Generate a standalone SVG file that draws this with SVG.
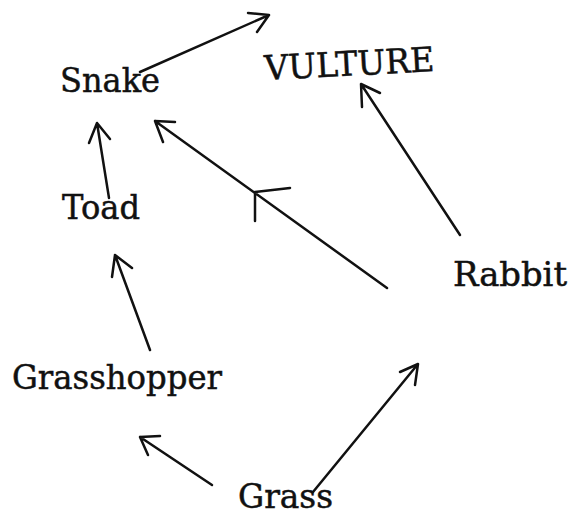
<svg xmlns="http://www.w3.org/2000/svg" width="573" height="515" viewBox="0 0 573 515">
<style>
text{font-family:"DejaVu Serif","Liberation Serif",serif;font-size:34px;fill:#111;stroke:#111;stroke-width:0.5}
.c{fill:none;stroke:#111;stroke-width:2.5;stroke-linecap:round;stroke-linejoin:round}
</style>
<rect width="573" height="515" fill="#fff"/>
<g id="snake"><text x="60" y="92" textLength="100" lengthAdjust="spacingAndGlyphs">Snake</text></g>
<g id="vulture"><text x="265" y="80" textLength="170" lengthAdjust="spacingAndGlyphs" transform="rotate(-3 265 80)">VULTURE</text></g>
<g id="toad"><text x="62" y="219" textLength="78" lengthAdjust="spacingAndGlyphs">Toad</text></g>
<g id="rabbit"><text x="453" y="286" textLength="114" lengthAdjust="spacingAndGlyphs">Rabbit</text></g>
<g id="grasshopper"><text x="12" y="389" textLength="210" lengthAdjust="spacingAndGlyphs">Grasshopper</text></g>
<g id="grass"><text x="238" y="508" textLength="95" lengthAdjust="spacingAndGlyphs">Grass</text></g>
<g id="connectors">
<path class="c" d="M140 72 L269 15 M248 13 L269 15 L257 32"/>
<path class="c" d="M460 235 L361 84 M380 93 L361 84 L362 107"/>
<path class="c" d="M109 198 L97 123 M89 143 L97 123 L110 139"/>
<path class="c" d="M387 288 L155 121 M175 122 L155 121 L163 142 M290 188 L255 192 L255 221"/>
<path class="c" d="M150 350 L115 255 M112 277 L115 255 L132 268"/>
<path class="c" d="M212 485 L140 437 M160 436 L140 437 L148 455"/>
<path class="c" d="M313 492 L418 364 M400 372 L418 364 L415 385"/>
</g>
</svg>
